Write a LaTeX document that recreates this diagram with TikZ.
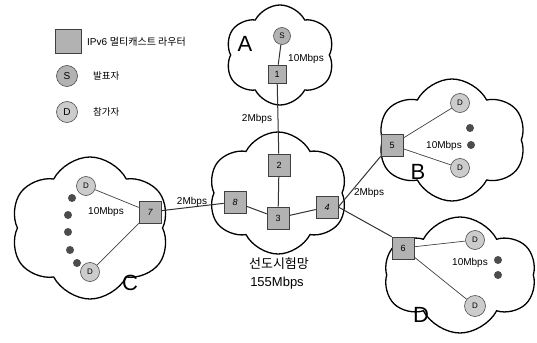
\documentclass[tikz,border=0pt]{standalone}
\usepackage{fontspec}
\setmainfont{Liberation Sans}
\newfontfamily\kr{Noto Sans CJK KR}
\usetikzlibrary{shapes.symbols}
\begin{document}
\begin{tikzpicture}[x=1pt,y=-1pt,
  net/.style={cloud, draw=black, line width=1.3pt, cloud puffs=#1, cloud puff arc=125, inner sep=0pt},
  router/.style={draw=black!75, fill=black!30, line width=0.6pt, minimum size=20pt, inner sep=0pt, font=\fontsize{9}{10}\selectfont},
  host/.style={circle, draw=black!70, fill=black!20, line width=0.6pt, minimum size=19pt, inner sep=0pt, font=\fontsize{8}{9}\selectfont},
  src/.style={host, fill=black!30, minimum size=17pt},
  dot/.style={circle, fill=black!70, minimum size=8pt, inner sep=0pt},
  link/.style={draw=black!80, line width=1pt},
  sub/.style={draw=black!75, line width=0.7pt},
  lbl/.style={font=\fontsize{10}{11}\selectfont, inner sep=1pt},
  big/.style={font=\fontsize{22}{24}\selectfont, inner sep=0pt}]
\useasboundingbox (0,0) rectangle (537,342);

% clouds
\node[net=6, minimum width=110pt, minimum height=100pt] (cA) at (280,55) {};
\node[net=6, minimum width=140pt, minimum height=122pt] (cM) at (278,193) {};
\node[net=6, minimum width=148pt, minimum height=122pt] (cB) at (452,140) {};
\node[net=6, minimum width=152pt, minimum height=116pt] (cD) at (460,275) {};
\node[net=6, minimum width=160pt, minimum height=142pt] (cC) at (90,228) {};

% legend
\node[router, minimum width=26pt, minimum height=24pt] (lr) at (68,41) {};
\node[anchor=west, font=\fontsize{10}{11}\selectfont, inner sep=0pt] (lrt) at (87,42) {IPv6 {\kr 멀티캐스트 라우터}};
\node[src, minimum size=21pt, font=\fontsize{10}{11}\selectfont] (ls) at (67,76) {S};
\node[anchor=west, font=\fontsize{9.5}{11}\kr, inner sep=0pt] (lst) at (93,76) {발표자};
\node[host, minimum size=21pt, font=\fontsize{10}{11}\selectfont] (ld) at (67,112) {D};
\node[anchor=west, font=\fontsize{9.5}{11}\kr, inner sep=0pt] (ldt) at (93,112) {참가자};

% routers
\node[router, minimum size=18pt] (r1) at (277,74) {1};
\node[router, minimum size=22pt] (r2) at (279,165) {2};
\node[router, minimum size=22pt] (r3) at (278,218) {3};
\node[router, minimum size=22pt] (r4) at (327,207) {\itshape 4};
\node[router, minimum size=22pt] (r5) at (392,145) {5};
\node[router, minimum size=22pt] (r6) at (403,248) {6};
\node[router, minimum size=22pt] (r7) at (150,212) {\itshape 7};
\node[router, minimum size=22pt] (r8) at (235,202) {\itshape 8};

% hosts
\node[src] (s) at (282,36) {S};
\node[host] (b1) at (460,103) {D};
\node[host] (b2) at (460,168) {D};
\node[host] (d1) at (475,240) {D};
\node[host, minimum size=21pt] (d2) at (475,306) {D};
\node[host] (c1) at (86,186) {D};
\node[host] (c2) at (90,272) {D};

% backbone and access links
\draw[link] (s) -- (r1);
\draw[link] (r1) -- (r2);
\draw[link] (r2) -- (r3);
\draw[link] (r8) -- (r3);
\draw[link] (r3) -- (r4);
\draw[link] (r4.east) -- (r5.south west);
\draw[link] (r4.east) -- (r6.north west);
\draw[link] (r7) -- (r8);
\draw[sub] (r5) -- (b1);
\draw[sub] (r5) -- (b2);
\draw[sub] (r6) -- (d1);
\draw[sub] (r6) -- (d2);
\draw[sub] (r7) -- (c1);
\draw[sub] (r7) -- (c2);

% further receivers
\node[dot] (bd1) at (470,128) {};
\node[dot] (bd2) at (471,145) {};
\node[dot] (dd1) at (498,260) {};
\node[dot] (dd2) at (498,275) {};
\node[dot] (cd1) at (72,198) {};
\node[dot] (cd2) at (68,215) {};
\node[dot] (cd3) at (68,232) {};
\node[dot] (cd4) at (70,250) {};
\node[dot] (cd5) at (77,263) {};

% labels
\node[lbl] (tA) at (306,59) {10Mbps};
\node[lbl] (t12) at (257,119) {2Mbps};
\node[lbl] (tB) at (444,146) {10Mbps};
\node[lbl] (t45) at (369,193) {2Mbps};
\node[lbl] (tD) at (470,263) {10Mbps};
\node[lbl] (tC) at (106,212) {10Mbps};
\node[lbl] (t78) at (192,202) {2Mbps};
\node[font=\kr\fontsize{13}{15}\selectfont, inner sep=0pt] (tm1) at (279,264) {선도시험망};
\node[font=\fontsize{13}{15}\selectfont, inner sep=0pt] (tm2) at (277,283) {155Mbps};
\node[big] (nA) at (245,44) {A};
\node[big] (nB) at (418,172) {B};
\node[big] (nC) at (130,283) {C};
\node[big] (nD) at (421,315) {D};
\end{tikzpicture}
\end{document}
